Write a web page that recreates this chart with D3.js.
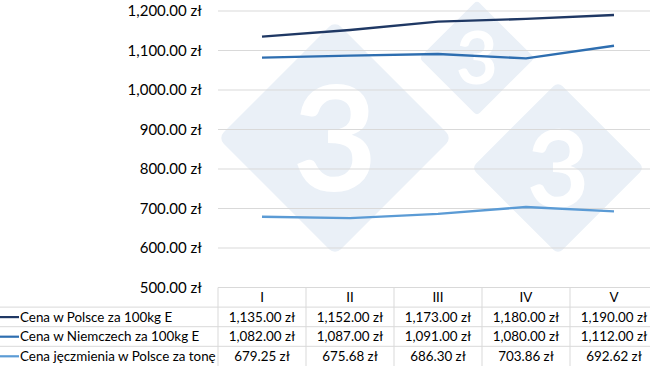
<!DOCTYPE html>
<html>
<head>
<meta charset="utf-8">
<script src="https://cdn.jsdelivr.net/npm/d3@7"></script>
<style>
  body { margin: 0; background: #fff; }
  svg { display: block; font-family: Lato, "Open Sans", sans-serif; }
</style>
</head>
<body>
<svg id="drawing_region"></svg>
<script>
const months = ['I', 'II', 'III', 'IV', 'V'];
const seriesNames = ['Cena w Polsce za 100kg E', 'Cena w Niemczech za 100kg E', 'Cena jęczmienia w Polsce za tonę'];
const polska = [1135.00, 1152.00, 1173.00, 1180.00, 1190.00];
const niemcy = [1082.00, 1087.00, 1091.00, 1080.00, 1112.00];
const jeczmien = [679.25, 675.68, 686.30, 703.86, 692.62];
const yTicks = [500, 600, 700, 800, 900, 1000, 1100, 1200];
const colors = ['#1f3864', '#2e6eb0', '#5b9bd5'];

const config = {
    width: 650,
    height: 366,
    left: 218,
    colWidth: 88,
    top: 11,
    plotBottom: 287.5,
    rowH: 19.6
};

const series = [polska, niemcy, jeczmien];
const svg = d3.select('#drawing_region')
    .attr('width', config.width)
    .attr('height', config.height);

const x = d3.scaleBand()
    .domain(months)
    .range([config.left, config.left + config.colWidth * months.length]);
const y = d3.scaleLinear()
    .domain([500, 1200])
    .range([config.plotBottom, config.top]);

// watermark (logo in background)
const wm = svg.append('g');
[[335, 138, 122], [477, 58, 60], [558, 168, 90]].forEach(d => {
    const s = d[2] * Math.SQRT2 * 0.96;
    wm.append('rect')
        .attr('x', -s / 2).attr('y', -s / 2)
        .attr('width', s).attr('height', s)
        .attr('rx', s * 0.05)
        .attr('transform', `translate(${d[0]},${d[1]}) rotate(45)`)
        .attr('fill', '#eaf0f7');
    const fs = d[2] * 1.2;
    wm.append('text')
        .attr('x', d[0]).attr('y', d[1] + fs * 0.36)
        .attr('text-anchor', 'middle')
        .style('font-size', `${fs}px`)
        .style('font-weight', 'bold')
        .attr('fill', '#ffffff')
        .text('3');
});

// gridlines
svg.append('g')
    .selectAll('line')
    .data(yTicks.slice(1))
    .join('line')
    .attr('x1', config.left).attr('x2', config.width)
    .attr('y1', d => y(d)).attr('y2', d => y(d))
    .attr('stroke', '#d9d9d9')
    .attr('stroke-width', 1);

// y axis labels
const fmt = d3.format(',.2f');
svg.append('g')
    .selectAll('text')
    .data(yTicks)
    .join('text')
    .attr('x', 202)
    .attr('y', d => y(d) + 5)
    .attr('text-anchor', 'end')
    .style('font-size', '15px')
    .attr('fill', '#000')
    .text(d => fmt(d) + ' zł');

// lines
const line = d3.line()
    .x((d, i) => x(months[i]) + x.bandwidth() / 2)
    .y(d => y(d));
svg.append('g')
    .selectAll('path')
    .data(series)
    .join('path')
    .attr('d', line)
    .attr('fill', 'none')
    .attr('stroke', (d, i) => colors[i])
    .attr('stroke-width', 2.4)
    .attr('stroke-linejoin', 'round');

// data table
const table = svg.append('g');
const rowTop = i => config.plotBottom + config.rowH * i;
d3.range(1, 4).forEach(i => {
    table.append('line')
        .attr('x1', 0).attr('x2', config.width)
        .attr('y1', rowTop(i)).attr('y2', rowTop(i))
        .attr('stroke', '#d9d9d9');
});
table.append('line')
    .attr('x1', config.left).attr('x2', config.width)
    .attr('y1', rowTop(0)).attr('y2', rowTop(0))
    .attr('stroke', '#d9d9d9');
months.forEach(m => {
    table.append('line')
        .attr('x1', x(m)).attr('x2', x(m))
        .attr('y1', rowTop(0)).attr('y2', config.height)
        .attr('stroke', '#d9d9d9');
});
table.selectAll('text.head')
    .data(months)
    .join('text')
    .attr('class', 'head')
    .attr('x', d => x(d) + x.bandwidth() / 2)
    .attr('y', rowTop(0) + 14.5)
    .attr('text-anchor', 'middle')
    .style('font-size', '13.4px')
    .text(d => d);
series.forEach((vals, r) => {
    const yy = rowTop(r + 1) + 14.5;
    table.append('line')
        .attr('x1', 0).attr('x2', 19)
        .attr('y1', yy - 4.5).attr('y2', yy - 4.5)
        .attr('stroke', colors[r])
        .attr('stroke-width', 2.2);
    table.append('text')
        .attr('x', 20).attr('y', yy)
        .style('font-size', '13.4px')
        .text(seriesNames[r]);
    table.selectAll(`text.v${r}`)
        .data(vals)
        .join('text')
        .attr('class', `v${r}`)
        .attr('x', (d, i) => x(months[i]) + x.bandwidth() / 2)
        .attr('y', yy)
        .attr('text-anchor', 'middle')
        .style('font-size', '13.4px')
        .text(d => fmt(d) + ' zł');
});
</script>
</body>
</html>
